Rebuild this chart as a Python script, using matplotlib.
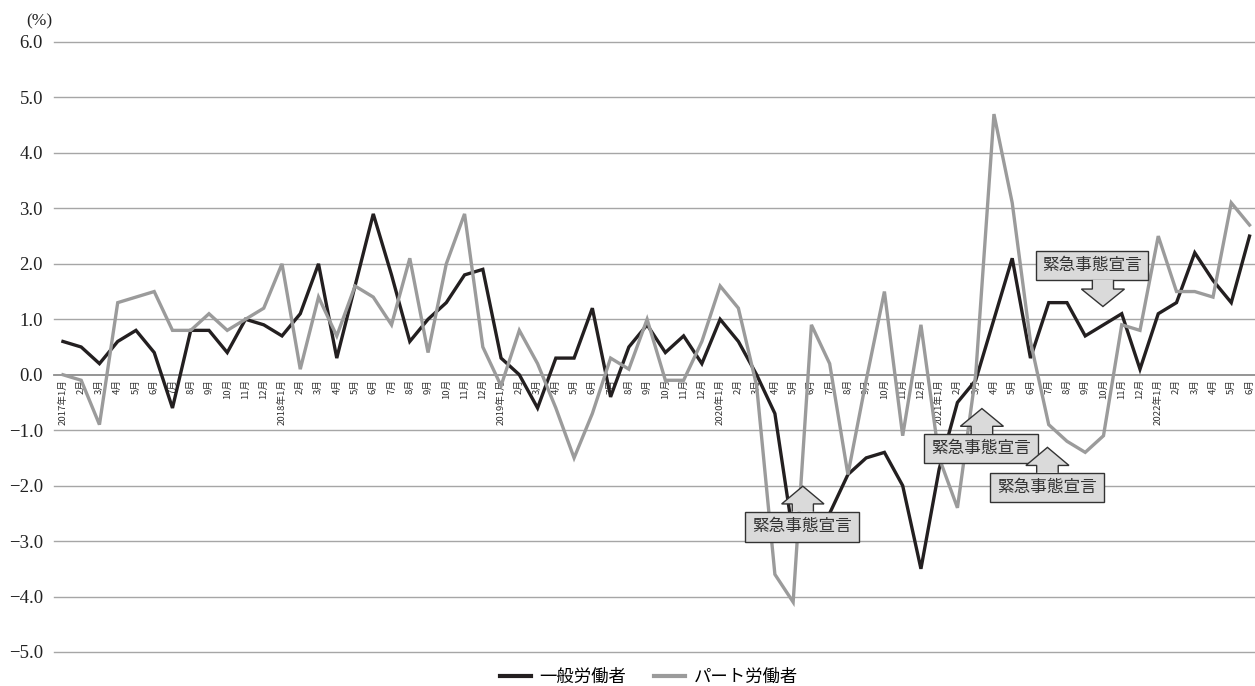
import matplotlib
matplotlib.use("Agg")
import matplotlib.pyplot as plt
from matplotlib.patches import Polygon, Rectangle
from matplotlib.lines import Line2D

# ---- data ----
years = [2017, 2018, 2019, 2020, 2021, 2022]
month_labels = []
for yr in years:
    last = 6 if yr == 2022 else 12
    for m in range(1, last + 1):
        month_labels.append(f"{yr}年{m}月" if m == 1 else f"{m}月")

general = [
    0.6, 0.5, 0.2, 0.6, 0.8, 0.4, -0.6, 0.8, 0.8, 0.4, 1.0, 0.9,      # 2017
    0.7, 1.1, 2.0, 0.3, 1.6, 2.9, 1.8, 0.6, 1.0, 1.3, 1.8, 1.9,       # 2018
    0.3, 0.0, -0.6, 0.3, 0.3, 1.2, -0.4, 0.5, 0.9, 0.4, 0.7, 0.2,     # 2019
    1.0, 0.6, 0.0, -0.7, -2.9, -2.9, -2.5, -1.8, -1.5, -1.4, -2.0, -3.5,  # 2020
    -1.7, -0.5, -0.1, 1.0, 2.1, 0.3, 1.3, 1.3, 0.7, 0.9, 1.1, 0.1,    # 2021
    1.1, 1.3, 2.2, 1.7, 1.3, 2.5,                                     # 2022
]
part = [
    0.0, -0.1, -0.9, 1.3, 1.4, 1.5, 0.8, 0.8, 1.1, 0.8, 1.0, 1.2,     # 2017
    2.0, 0.1, 1.4, 0.7, 1.6, 1.4, 0.9, 2.1, 0.4, 2.0, 2.9, 0.5,       # 2018
    -0.2, 0.8, 0.2, -0.6, -1.5, -0.7, 0.3, 0.1, 1.0, -0.1, -0.1, 0.6, # 2019
    1.6, 1.2, -0.2, -3.6, -4.1, 0.9, 0.2, -1.8, -0.1, 1.5, -1.1, 0.9, # 2020
    -1.5, -2.4, 0.0, 4.7, 3.1, 0.6, -0.9, -1.2, -1.4, -1.1, 0.9, 0.8, # 2021
    2.5, 1.5, 1.5, 1.4, 3.1, 2.7,                                     # 2022
]
series_names = ["一般労働者", "パート労働者"]
y_ticks = [6, 5, 4, 3, 2, 1, 0, -1, -2, -3, -4, -5]
annot_text = "緊急事態宣言"

# ---- style ----
CJK = ["Noto Sans CJK JP", "DejaVu Sans"]
SERIF = ["Liberation Serif", "DejaVu Serif"]
BLACK = "#231f20"
GRAY = "#9b9b9b"
GRID = "#a6a6a6"

W, H = 1255, 686
fig = plt.figure(figsize=(W / 100, H / 100), dpi=100)
ax = fig.add_axes([54 / W, (H - 652) / H, (W - 54) / W, 610 / H])

x = list(range(len(month_labels)))
ax.set_xlim(-0.49, 65.3)
ax.set_ylim(-5, 6)

for s in ax.spines.values():
    s.set_visible(False)
ax.set_xticks([])
ax.set_yticks(y_ticks)
ax.set_yticklabels([f"{v:.1f}".replace("-", "−") for v in y_ticks],
                   fontfamily=SERIF, fontsize=13.5, color="#222222")
ax.tick_params(axis="y", length=0, pad=8)
for v in y_ticks:
    ax.axhline(v, color=GRID if v != 0 else "#8c8c8c",
               lw=1.0 if v != 0 else 1.3, zorder=1, clip_on=False)

# category labels hanging below the zero line
for i, lab in enumerate(month_labels):
    ax.annotate(lab, xy=(i, 0), xytext=(0, -3), textcoords="offset points",
                rotation=90, ha="center", va="top", fontsize=6.9,
                fontfamily=CJK, color="#333333", zorder=2)

ax.plot(x, general, color=BLACK, lw=2.4, zorder=4, solid_joinstyle="miter")
ax.plot(x, part, color=GRAY, lw=2.4, zorder=5, solid_joinstyle="miter")

ax.text(-0.6, 6.37, "(%)", fontfamily=SERIF, fontsize=12.5, color="#222222",
        ha="right", va="center", clip_on=False)

# ---- annotation boxes with block arrows ----
FILL = "#dadada"
EDGE = "#333333"


def callout(bx0, bx1, by0, by1, tip_x, tip_y, head_y, head_hw, shaft_hw):
    ax.add_patch(Rectangle((bx0, by0), bx1 - bx0, by1 - by0, facecolor=FILL,
                           edgecolor=EDGE, lw=1.0, zorder=7))
    ax.text((bx0 + bx1) / 2, (by0 + by1) / 2, annot_text, fontfamily=CJK,
            fontsize=12, color="#333333", ha="center", va="center", zorder=8)
    up = tip_y > by1
    base = by1 if up else by0
    pts = [(tip_x - shaft_hw, base), (tip_x - shaft_hw, head_y),
           (tip_x - head_hw, head_y), (tip_x, tip_y),
           (tip_x + head_hw, head_y), (tip_x + shaft_hw, head_y),
           (tip_x + shaft_hw, base)]
    ax.add_patch(Polygon(pts, closed=False, facecolor=FILL, edgecolor=EDGE,
                         lw=1.0, zorder=7))


callout(37.37, 43.62, -3.01, -2.47, 40.53, -2.01, -2.33, 1.16, 0.58)
callout(53.32, 59.44, 1.71, 2.24, 56.97, 1.23, 1.545, 1.18, 0.58)
callout(47.19, 53.44, -1.60, -1.07, 50.34, -0.61, -0.93, 1.18, 0.59)
callout(50.79, 57.04, -2.30, -1.77, 53.93, -1.31, -1.636, 1.18, 0.59)

# ---- legend ----
handles = [Line2D([0], [0], color=BLACK, lw=3),
           Line2D([0], [0], color=GRAY, lw=3)]
fig.legend(handles, series_names, loc="center", bbox_to_anchor=(649 / W, 1 - 677 / H),
           ncol=2, frameon=False, handlelength=1.8, handletextpad=0.5,
           columnspacing=1.6, prop={"family": CJK, "size": 12.5})

fig.savefig("out.png", dpi=100)
